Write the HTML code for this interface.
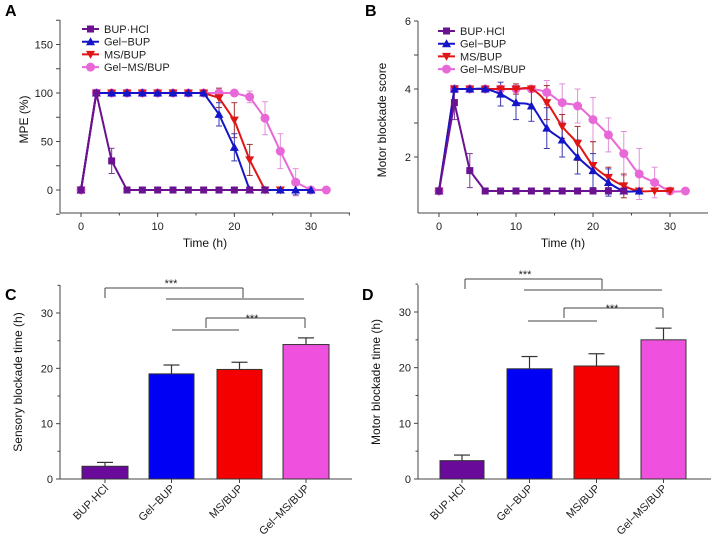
<!DOCTYPE html>
<html><head><meta charset="utf-8"><style>
html,body{margin:0;padding:0;background:#fff;width:711px;height:543px;overflow:hidden}
svg text{font-family:"Liberation Sans",Arial,sans-serif}
</style></head><body>
<svg id="s" width="711" height="543" xmlns="http://www.w3.org/2000/svg"></svg>
<script>
const S=document.getElementById('s');let h='';
const C={p:'#6a1290',b:'#1515c8',r:'#e01515',m:'#e868d8'};
const EC={p:'#7a3a9a',b:'#3a3ab0',r:'#a03030',m:'#e090d8'};
function L(x1,y1,x2,y2,c='#444',w=1){h+=`<line x1="${x1}" y1="${y1}" x2="${x2}" y2="${y2}" stroke="${c}" stroke-width="${w}"/>`;}
function T(x,y,t,o=''){h+=`<text x="${x}" y="${y}" ${o}>${t}</text>`;}
function marker(k,x,y){const c=C[k];
 if(k=='p')h+=`<rect x="${x-3.5}" y="${y-3.5}" width="7" height="7" fill="${c}"/>`;
 else if(k=='b')h+=`<polygon points="${x},${y-4.5} ${x+4.5},${y+3.5} ${x-4.5},${y+3.5}" fill="${c}"/>`;
 else if(k=='r')h+=`<polygon points="${x},${y+4.5} ${x+4.5},${y-3.5} ${x-4.5},${y-3.5}" fill="${c}"/>`;
 else h+=`<circle cx="${x}" cy="${y}" r="4.5" fill="${c}"/>`;}
function spline(pts){let d=`M${pts[0][0]},${pts[0][1]}`;for(let i=0;i<pts.length-1;i++){const p0=pts[i-1]||pts[i],p1=pts[i],p2=pts[i+1],p3=pts[i+2]||p2;
 const c1=[p1[0]+(p2[0]-p0[0])/6,p1[1]+(p2[1]-p0[1])/6],c2=[p2[0]-(p3[0]-p1[0])/6,p2[1]-(p3[1]-p1[1])/6];
 d+=` C${c1[0]},${c1[1]} ${c2[0]},${c2[1]} ${p2[0]},${p2[1]}`;}return d;}
function linePanel(cfg){
 const {x0,x30,yA,vA,yB,vB,axX,axBot,axTop,axRight,yt,series,smooth,xlabel,ylabel,leg,lbl}=cfg;
 const X=t=>x0+(x30-x0)*t/30, Y=v=>yA+(yB-yA)*(v-vA)/(vB-vA);
 L(axX,axTop,axX,axBot);L(axX,axBot,axRight,axBot);
 for(const [v,lab] of yt){const y=Y(v);L(axX-4,y,axX,y);if(lab!==null)T(axX-7,y+4,lab,'font-size="11" text-anchor="end" fill="#222"');}
 for(let t=0;t<=35;t+=5){const x=X(t);if(x>axRight)break;L(x,axBot,x,axBot+(t%10==0?4:2.5));if(t%10==0)T(x,axBot+17,t,'font-size="11" text-anchor="middle" fill="#222"');}
 T((axX+axRight)/2,axBot+34,xlabel,'font-size="12" text-anchor="middle" fill="#111"');
 T(0,0,ylabel,`font-size="12" text-anchor="middle" fill="#111" transform="translate(${axX-32},${(axTop+axBot)/2+3}) rotate(-90)"`);
 T(lbl[0],lbl[1],lbl[2],'font-size="16" font-weight="bold" fill="#000"');
 for(const [k,d] of series){
  for(const p of d){if(p[2]){const x=X(p[0]);L(x,Y(p[1]-p[2]),x,Y(p[1]+p[2]),EC[k]);L(x-3,Y(p[1]+p[2]),x+3,Y(p[1]+p[2]),EC[k]);L(x-3,Y(p[1]-p[2]),x+3,Y(p[1]-p[2]),EC[k]);}}
 }
 for(const [k,d] of series){const pts=d.map(p=>[X(p[0]),Y(p[1])]);
  if(smooth&&k!='p'){h+=`<line x1="${pts[0][0]}" y1="${pts[0][1]}" x2="${pts[1][0]}" y2="${pts[1][1]}" stroke="${C[k]}" stroke-width="2"/>`;
   h+=`<path d="${spline(pts.slice(1))}" fill="none" stroke="${C[k]}" stroke-width="2"/>`;}
  else h+=`<polyline points="${pts.map(p=>p.join(',')).join(' ')}" fill="none" stroke="${C[k]}" stroke-width="2"/>`;
  for(const p of pts)marker(k,p[0],p[1]);}
 const names=['BUP·HCl','Gel−BUP','MS/BUP','Gel−MS/BUP'];['p','b','r','m'].forEach((k,i)=>{const y=leg[1]+i*12.7;L(leg[0],y,leg[0]+17,y,C[k],2);marker(k,leg[0]+8.5,y);T(leg[0]+22,y+4,names[i],'font-size="11" fill="#222"');});
}
const r=(a,b,v,e)=>{const o=[];for(let t=a;t<=b;t+=2)o.push([t,v,e]);return o;};
linePanel({x0:81,x30:311,yA:190,vA:0,yB:93,vB:100,axX:60,axBot:213,axTop:20,axRight:350,
 yt:[[-25,null],[0,'0'],[25,null],[50,'50'],[75,null],[100,'100'],[125,null],[150,'150'],[175,null]],
 xlabel:'Time (h)',ylabel:'MPE (%)',leg:[82,29],lbl:[5,16,'A'],
 series:[
 ['m',[[0,0],...r(2,18,100),[20,100],[22,96,6],[24,74,17],[26,40,18],[28,8,14],[30,0],[32,0]]],
 ['r',[[0,0],...r(2,16,100),[18,95,10],[20,72,18],[22,31,16],[24,0],[26,0]]],
 ['b',[[0,0],...r(2,16,100),[18,78,12],[20,44,14],[22,0],[24,0],[26,0],[28,0,5],[30,0]]],
 ['p',[[0,0],[2,100],[4,30,13],...r(6,24,0)]]]});
linePanel({x0:439,x30:670,yA:191,vA:1,yB:89,vB:4,axX:418,axBot:213,axTop:21,axRight:708,smooth:true,
 yt:[[2,'2'],[3,null],[4,'4'],[5,null],[6,'6']],
 xlabel:'Time  (h)',ylabel:'Motor blockade score',leg:[438,31],lbl:[365,16,'B'],
 series:[
 ['m',[[0,1],[2,4,0.1],[4,4],[6,4],[8,4],[10,4],[12,4],[14,3.9,0.35],[16,3.6,0.55],[18,3.5,0.5],[20,3.1,0.65],[22,2.65,0.5],[24,2.1,0.65],[26,1.5,0.75],[28,1.25,0.45],[30,1],[32,1]]],
 ['r',[[0,1],[2,4,0.1],[4,4],[6,4],[8,4],[10,4,0.15],[12,4],[14,3.6,0.5],[16,2.9,0.35],[18,2.4,0.5],[20,1.75,0.7],[22,1.4,0.3],[24,1.15,0.35],[26,1],[28,1],[30,1]]],
 ['b',[[0,1],[2,4],[4,4],[6,4],[8,3.85,0.35],[10,3.6,0.5],[12,3.5,0.45],[14,2.85,0.6],[16,2.5,0.5],[18,2.0,0.5],[20,1.6,0.5],[22,1.25,0.4],[24,1],[26,1]]],
 ['p',[[0,1],[2,3.6,0.5],[4,1.6,0.5],...r(6,24,1)]]]});
const BC=['#6a0a9a','#0000f5','#f50000','#f050de'];
function bar(cfg){const{axX,y0,y30,axTop,axRight,bars,ylabel,lbl,br}=cfg;const Y=v=>y0+(y30-y0)*v/30;
 L(axX,axTop,axX,y0);L(axX,y0,axRight,y0);
 for(let v=0;v<=35;v+=5){const y=Y(v);L(axX-(v%10?2.5:4),y,axX,y);if(v%10==0)T(axX-7,y+4,v,'font-size="11" text-anchor="end" fill="#222"');}
 T(0,0,ylabel,`font-size="12" text-anchor="middle" fill="#111" transform="translate(${axX-38},${(axTop+y0)/2}) rotate(-90)"`);
 T(lbl[0],lbl[1],lbl[2],'font-size="16" font-weight="bold" fill="#000"');
 const names=['BUP·HCl','Gel−BUP','MS/BUP','Gel−MS/BUP'];
 bars.forEach(([x1,x2,v,e],i)=>{const c=(x1+x2)/2;L(c,Y(v),c,Y(e),'#333',1.2);L(c-8,Y(e),c+8,Y(e),'#333',1.2);
  h+=`<rect x="${x1}" y="${Y(v)}" width="${x2-x1}" height="${y0-Y(v)}" fill="${BC[i]}" stroke="#333" stroke-width="1"/>`;
  L(c,y0,c,y0+4);T(0,0,names[i],`font-size="11" text-anchor="end" fill="#222" transform="translate(${c+4},${y0+10}) rotate(-45)"`);});
 for(const s of br)s();
}
bar({axX:60,y0:479,y30:313,axTop:285,axRight:352,ylabel:'Sensory blockade time (h)',lbl:[5,300,'C'],
 bars:[[82,128,2.3,3.0],[149,194,19,20.6],[217,262,19.8,21.1],[283,329,24.3,25.5]],
 br:[()=>{L(105,298,105,288);L(105,288,243,288);L(243,288,243,298);L(166,299,304,299);T(171,287,'***','font-size="11" text-anchor="middle" fill="#222"');
  L(206,328,206,318);L(206,318,305,318);L(305,318,305,328);L(172,330,239,330);T(252,322,'***','font-size="11" text-anchor="middle" fill="#222"');}]});
bar({axX:418,y0:479,y30:312,axTop:285,axRight:711,ylabel:'Motor  blockade time (h)',lbl:[362,300,'D'],
 bars:[[440,484,3.3,4.3],[507,552,19.8,22],[574,619,20.3,22.5],[641,686,25,27.1]],
 br:[()=>{L(465,289,465,279);L(465,279,602,279);L(602,279,602,289);L(524,290,662,290);T(525,278,'***','font-size="11" text-anchor="middle" fill="#222"');
  L(564,318,564,308);L(564,308,663,308);L(663,308,663,318);L(528,321,597,321);T(612,312,'***','font-size="11" text-anchor="middle" fill="#222"');}]});
S.innerHTML=h;
</script>
</body></html>
